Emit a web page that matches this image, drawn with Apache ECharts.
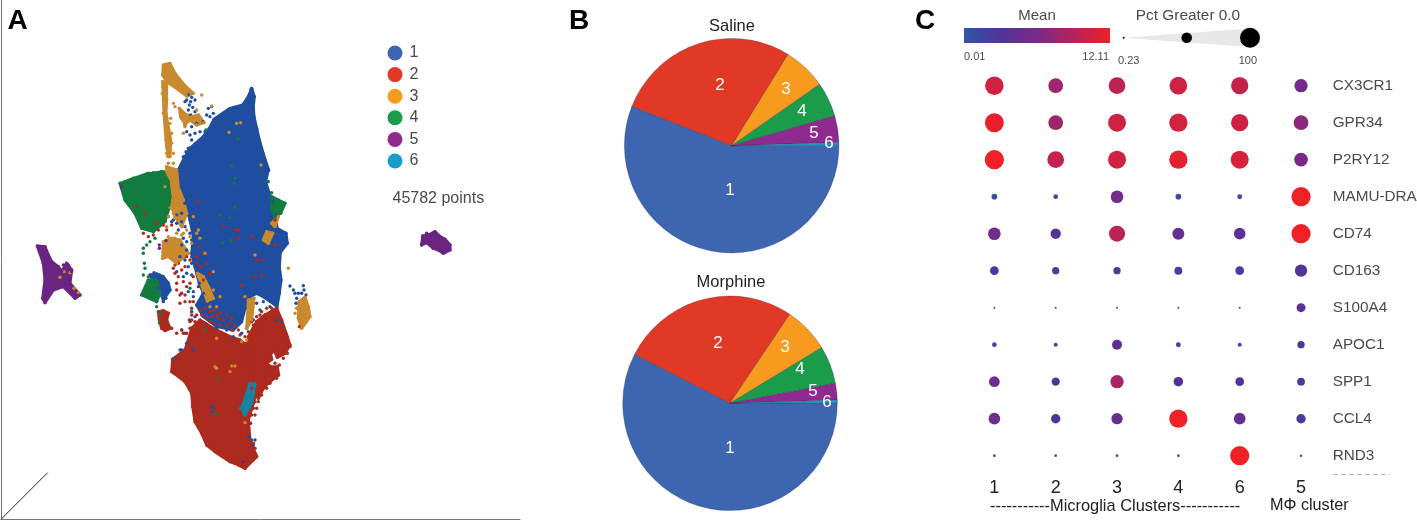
<!DOCTYPE html>
<html>
<head>
<meta charset="utf-8">
<title>Clusters</title>
<style>
    html, body { margin: 0; padding: 0; background: #fff; }
    #main { width: 1417px; height: 521px; }
</style>
</head>
<body>
<div id="main"></div>
<script src="https://cdn.jsdelivr.net/npm/echarts@6/dist/echarts.min.js"></script>
<script>
    // A: cell map, dense areas as outlines, loose cells as points
    var clusterNames = ['1', '2', '3', '4', '5', '6'];

    var blueAreas = [
        [[755,265],[763,290],[760,320],[762,350],[770,385],[778,420],[790,462],[805,508],[797,545],[806,575],[818,605],[826,645],[831,685],[858,700],[862,730],[841,757],[838,800],[843,840],[838,880],[831,920],[812,905],[790,890],[770,880],[750,890],[735,925],[725,965],[700,990],[650,980],[610,950],[590,915],[610,880],[598,850],[585,800],[575,760],[580,710],[570,660],[555,610],[540,560],[535,510],[555,470],[570,445],[585,432],[610,410],[628,385],[642,358],[690,325],[728,315],[745,290]],
        [[450,825],[470,822],[490,830],[505,850],[510,870],[490,900],[475,865]]
    ];
    var redAreas = [
        [[575,985],[600,960],[640,985],[690,1010],[720,1020],[745,1040],[748,1100],[750,1150],[770,1170],[760,1210],[745,1260],[750,1320],[770,1370],[760,1380],[735,1405],[715,1395],[690,1385],[645,1355],[620,1335],[605,1300],[585,1265],[578,1220],[575,1180],[555,1145],[515,1115],[518,1078],[555,1050],[565,1020]],
        [[745,1010],[770,965],[795,945],[830,925],[845,960],[858,1000],[870,1035],[855,1060],[832,1072],[822,1050],[812,1062],[815,1078],[800,1090],[812,1100],[832,1100],[836,1125],[810,1145],[790,1165],[775,1195],[755,1165],[748,1100]],
        [[475,935],[490,932],[505,940],[500,960],[510,985],[495,992],[485,985],[478,960]]
    ];
    var orangeAreas = [
        [[490,195],[510,190],[525,220],[540,240],[560,262],[580,280],[560,288],[525,262],[500,245],[488,225]],
        [[488,245],[500,250],[500,300],[498,340],[512,420],[510,470],[504,470],[498,420],[492,340]],
        [[538,325],[555,342],[575,350],[595,345],[612,368],[590,375],[570,360],[555,372],[542,350]],
        [[500,500],[530,510],[535,560],[550,600],[560,640],[545,680],[525,650],[515,620],[495,560]],
        [[490,725],[515,715],[540,720],[565,760],[530,790],[505,770],[488,775]],
        [[592,820],[610,830],[625,860],[640,895],[622,903],[610,870]],
        [[745,900],[762,895],[755,960],[740,985]],
        [[897,905],[915,892],[925,920],[930,950],[905,985],[895,955]],
        [[800,695],[818,700],[805,730],[790,720]],
        [[815,670],[835,650],[825,680]]
    ];
    var greenAreas = [
        [[360,550],[400,535],[440,522],[490,515],[505,545],[510,590],[505,630],[495,665],[460,695],[425,685],[405,640],[375,600]],
        [[815,590],[835,600],[855,610],[842,640],[825,650],[815,630]],
        [[445,840],[470,840],[480,880],[470,905],[425,885]]
    ];
    var purpleAreas = [
        [[112,738],[135,740],[145,765],[155,785],[175,800],[185,815],[200,790],[215,810],[210,850],[240,885],[225,895],[190,860],[160,870],[135,908],[128,895],[135,840],[130,790]],
        [[1268,708],[1285,705],[1305,695],[1318,708],[1335,718],[1350,735],[1350,750],[1330,760],[1315,750],[1300,745],[1280,728],[1265,735]]
    ];
    var tealAreas = [
        [[750,1150],[765,1152],[755,1210],[735,1245],[725,1225],[740,1180]]
    ];

    var bluePoints = [[753,270],[757,285],[748,300],[743,310],[565,285],[575,292],[560,300],[572,305],[585,300],[568,315],[578,322],[585,335],[565,330],[572,345],[555,305],[625,325],[635,320],[640,340],[620,345],[610,365],[630,350],[590,370],[575,380],[560,395],[570,405],[585,400],[600,395],[615,395],[555,375],[600,420],[575,420],[590,440],[565,445],[550,470],[558,455],[785,465],[797,500],[806,512],[792,480],[805,545],[462,818],[478,825],[490,835],[505,855],[497,875],[498,895],[490,905],[600,700],[590,745],[575,770],[555,780],[540,770],[560,750],[545,735],[535,690],[520,660],[530,645],[545,640],[505,650],[515,665],[530,670],[545,665],[555,680],[570,700],[575,720],[560,725],[550,715],[585,760],[575,790],[565,800],[590,820],[575,825],[595,860],[580,875],[565,875],[580,890],[560,820],[550,830],[530,815],[575,935],[585,950],[568,960],[555,1000],[545,990],[560,1030],[545,1050],[580,1050],[540,1050],[525,1075],[720,970],[760,960],[780,930],[800,890],[790,905],[770,910],[845,965],[850,985],[830,960],[810,920],[700,1010],[680,990],[650,985],[725,1000],[740,985],[635,1220],[635,1235],[640,1222],[745,1310],[755,1320],[765,1320],[760,1335],[752,1270],[870,858],[880,870],[885,880],[895,880],[910,857],[912,870],[905,880],[918,885],[890,895],[888,910]];
    var redPoints = [[830,925],[815,925],[800,925],[785,935],[835,945],[795,945],[780,945],[770,950],[770,965],[755,965],[760,975],[778,975],[850,985],[838,985],[785,985],[760,985],[745,995],[862,1010],[865,1025],[870,1040],[860,1045],[862,1060],[850,1075],[838,1095],[825,1090],[830,1135],[810,1150],[800,1165],[785,1185],[775,1205],[765,1205],[770,1225],[760,1225],[765,1245],[755,1245],[750,1270],[745,1290],[760,1330],[765,1345],[768,1365],[525,820],[535,830],[550,845],[530,850],[545,880],[540,885],[560,860],[570,850],[580,830],[555,800],[535,790],[525,795],[570,780],[590,790],[610,760],[620,790],[630,820],[610,840],[600,800],[590,770],[595,740],[560,770],[545,810],[520,805],[530,870],[555,885],[570,905],[540,910],[555,905],[575,925],[580,905],[530,1000],[545,990],[515,985],[550,1000],[430,700],[445,710],[460,705],[475,690],[490,675],[470,670],[500,690],[515,675],[410,620],[435,640],[705,690],[715,690],[695,720],[715,715],[670,680],[755,710],[770,780],[785,780],[765,830],[725,855],[785,825],[595,605],[825,660],[830,650],[825,735],[898,980],[600,930],[615,925],[630,935],[645,930],[660,940],[680,945],[695,955],[590,945],[605,945],[620,950],[635,950],[655,955],[670,960],[690,970],[705,975],[585,965],[600,970],[615,970],[630,965],[645,970],[660,975],[680,980],[695,990],[715,990],[720,1005],[735,1010],[575,945],[570,965],[740,1030],[640,930],[650,945],[575,960],[570,985],[560,1000]];
    var orangePoints = [[488,260],[487,280],[490,300],[495,325],[490,340],[500,355],[512,355],[510,370],[505,385],[498,390],[515,400],[515,430],[500,440],[505,430],[512,450],[500,460],[520,460],[505,490],[520,490],[520,310],[525,320],[550,340],[545,355],[565,355],[555,380],[550,400],[590,330],[605,285],[635,318],[710,370],[722,368],[687,397],[783,495],[865,805],[765,765],[595,690],[590,700],[615,760],[640,815],[640,870],[650,920],[630,920],[660,890],[735,890],[650,1015],[740,1020],[725,1025],[645,1100],[650,1105],[690,1115],[705,1098],[695,1098],[890,925],[885,940],[735,1268],[180,832],[192,815],[210,818],[222,865],[235,878],[510,625],[520,640],[560,640],[580,650],[560,690],[550,700],[505,710],[530,700],[575,730],[505,650],[500,680],[525,715],[545,705],[570,710],[600,715]];
    var greenPoints = [[445,520],[483,515],[460,518],[430,745],[440,735],[450,725],[465,715],[430,760],[433,790],[435,805],[430,825],[445,830],[470,920],[480,940],[478,968],[705,535],[703,550],[695,497],[714,416],[660,645],[690,653],[704,622],[668,728],[692,722],[618,390],[800,545],[815,578],[655,1137],[648,1243],[615,990],[570,865],[575,935]];
    var purplePoints = [[365,562],[478,735],[498,722],[478,745],[730,1385],[190,795],[205,795],[215,815],[205,835],[1265,732],[1328,755],[1280,700],[1305,697]];
    var tealPoints = [[722,1225],[735,1245],[745,1190]];
    var axisHint = [[3,1558],[143,1418]];

    // B: share of each cluster in percent
    var salineShare = [56.0, 27.8, 6.5, 5.2, 4.0, 0.4];
    var morphineShare = [57.6, 26.8, 6.9, 5.7, 2.5, 0.4];

    // C: percent expressing and mean per gene, columns follow clusterOrder
    var clusterOrder = ['1', '2', '3', '4', '6', '5'];
    var genes = ['CX3CR1', 'GPR34', 'P2RY12', 'MAMU-DRA', 'CD74', 'CD163', 'S100A4', 'APOC1', 'SPP1', 'CCL4', 'RND3'];
    var pctRows = [
        [86, 54, 70, 78, 75, 44],
        [90, 54, 81, 84, 75, 54],
        [93, 70, 81, 84, 81, 47],
        [8, 5.5, 40, 8, 6, 93],
        [40, 27, 64, 36, 34, 93],
        [19, 13, 13, 16, 19, 38],
        [1, 1, 1, 1, 1, 20],
        [5.5, 4, 25, 6, 4, 13],
        [29, 17, 44, 23, 19, 15],
        [34, 22, 32, 84, 34, 22],
        [1.8, 1.8, 1.8, 1.8, 93, 1.5]
    ];
    var meanRows = [
        [10.5, 8, 9.5, 10.5, 10, 5.5],
        [11.8, 8, 10.5, 10.7, 10.5, 7],
        [12.1, 9.8, 10.5, 11.5, 11, 6],
        [1, 1, 5.5, 1, 1, 12.1],
        [5.5, 3.5, 9.5, 4.5, 4, 12.1],
        [2.5, 2, 2, 2, 2, 3.5],
        [1.5, 1.5, 1.5, 1.5, 1.5, 4],
        [1.5, 1.5, 4, 1.5, 1.5, 2.5],
        [5, 2.5, 8.5, 3.5, 3, 2.5],
        [5, 3, 4.5, 12.1, 4.5, 2.5],
        [1, 1, 1, 1, 12.1, 1]
    ];

    var legendColors = ['#3e66b0', '#e23826', '#f89a1d', '#1a9c4b', '#8f2a90', '#1b9dcb'];
    var mapColors = ['#1f4ea0', '#ad2a1e', '#c98a2f', '#127c3e', '#6a2481', '#1784a5'];
    var meanColors = ['#2f55a7', '#503399', '#7a2a88', '#b3235a', '#ef2026'];
    var textGray = '#4a4a4a';
    var fontName = '"Liberation Sans", Arial, sans-serif';

    // label centres on the page, same order as clusterNames
    var salineLabels = [[730,190],[720,85],[786,89],[802,111],[814,133],[829,143]];
    var morphineLabels = [[730,448],[718,343],[785,347],[800,369],[813,391],[827,402]];

    var series = [];

    function addAreas(name, color, areas) {
        series.push({
            name: name,
            type: 'custom',
            coordinateSystem: 'cartesian2d',
            xAxisIndex: 0,
            yAxisIndex: 0,
            z: 2,
            silent: true,
            data: areas.map(function (a, i) { return [a[0][0], a[0][1], i]; }),
            renderItem: function (params, api) {
                var pts = areas[params.dataIndex].map(function (p) { return api.coord(p); });
                return {
                    type: 'polygon',
                    shape: { points: pts },
                    style: { fill: color, stroke: color, lineWidth: 3, lineJoin: 'round' }
                };
            }
        });
    }

    function addPoints(name, color, points) {
        series.push({
            name: name,
            type: 'scatter',
            xAxisIndex: 0,
            yAxisIndex: 0,
            z: 3,
            symbolSize: 3.4,
            silent: true,
            itemStyle: { color: color, opacity: 1 },
            data: points
        });
    }

    var allAreas = [blueAreas, redAreas, orangeAreas, greenAreas, purpleAreas, tealAreas];
    var allPoints = [bluePoints, redPoints, orangePoints, greenPoints, purplePoints, tealPoints];
    clusterNames.forEach(function (name, i) {
        addAreas(name, mapColors[i], allAreas[i]);
    });
    // outline corners show as cells too, this gives the rough edge
    clusterNames.forEach(function (name, i) {
        var corners = [];
        allAreas[i].forEach(function (a) { corners = corners.concat(a); });
        addPoints(name, mapColors[i], corners.concat(allPoints[i]));
    });

    series.push({
        type: 'line',
        xAxisIndex: 0,
        yAxisIndex: 0,
        symbol: 'none',
        silent: true,
        lineStyle: { color: '#222', width: 1 },
        data: axisHint
    });

    function addPie(share, center, labels) {
        series.push({
            type: 'pie',
            center: center,
            radius: [0, 107.3],
            startAngle: 0.3,
            silent: true,
            itemStyle: { borderColor: 'rgba(30,30,70,0.45)', borderWidth: 0.6 },
            label: {
                position: 'inside',
                formatter: '{b}',
                color: '#fff',
                fontSize: 17,
                fontFamily: fontName
            },
            labelLine: { show: false },
            labelLayout: function (params) {
                var c = labels[params.dataIndex];
                return { x: c[0], y: c[1], align: 'center', verticalAlign: 'middle' };
            },
            data: share.map(function (v, i) {
                return { name: clusterNames[i], value: v, itemStyle: { color: legendColors[i] } };
            })
        });
    }
    addPie(salineShare, [731.7, 145.7], salineLabels);
    addPie(morphineShare, [730, 403.3], morphineLabels);

    var dotData = [];
    genes.forEach(function (g, r) {
        clusterOrder.forEach(function (c, k) {
            dotData.push([k, r, pctRows[r][k], meanRows[r][k]]);
        });
    });
    var dotSeriesIndex = series.length;
    series.push({
        name: 'Mean',
        type: 'scatter',
        xAxisIndex: 1,
        yAxisIndex: 1,
        silent: true,
        itemStyle: { opacity: 1 },
        symbolSize: function (v) { return 20 * Math.sqrt(v[2] / 100); },
        data: dotData
    });

    function text(str, x, y, size, color, align, weight) {
        return {
            type: 'text',
            x: x,
            y: y,
            silent: true,
            style: {
                text: str,
                fill: color,
                font: (weight || 'normal') + ' ' + size + 'px ' + fontName,
                align: align || 'center',
                verticalAlign: 'middle'
            }
        };
    }

    var option = {
        animation: false,
        backgroundColor: '#fff',
        textStyle: { fontFamily: fontName },
        grid: [
            { left: 1, top: 0, width: 519, height: 519.3, containLabel: false, outerBoundsMode: 'none' },
            { left: 963.7, top: 67.2, width: 368, height: 407, containLabel: false, outerBoundsMode: 'none' }
        ],
        xAxis: [
            {
                type: 'value', gridIndex: 0, min: 3, max: 1560, position: 'bottom',
                axisLine: { show: true, onZero: false, lineStyle: { color: '#777', width: 1 } },
                axisTick: { show: false }, axisLabel: { show: false }, splitLine: { show: false }
            },
            {
                type: 'category', gridIndex: 1, data: clusterOrder, position: 'bottom',
                axisLine: { show: false }, axisTick: { show: false }, splitLine: { show: false },
                axisLabel: { color: '#222', fontSize: 18, margin: 5, fontFamily: fontName }
            }
        ],
        yAxis: [
            {
                type: 'value', gridIndex: 0, min: 0, max: 1558, inverse: true, position: 'left',
                axisLine: { show: true, onZero: false, lineStyle: { color: '#777', width: 1 } },
                axisTick: { show: false }, axisLabel: { show: false }, splitLine: { show: false }
            },
            {
                type: 'category', gridIndex: 1, data: genes, inverse: true, position: 'right',
                axisLine: { show: false }, axisTick: { show: false }, splitLine: { show: false },
                axisLabel: { color: textGray, fontSize: 15.3, margin: 1, fontFamily: fontName }
            }
        ],
        legend: {
            orient: 'vertical',
            left: 387.5,
            top: 45,
            padding: 0,
            icon: 'circle',
            itemWidth: 15,
            itemHeight: 15,
            itemGap: 5.6,
            selectedMode: false,
            textStyle: { color: textGray, fontSize: 16, padding: [0, 0, 0, 2] },
            data: clusterNames.map(function (n, i) {
                return { name: n, itemStyle: { color: legendColors[i] } };
            })
        },
        visualMap: {
            show: false,
            type: 'continuous',
            seriesIndex: dotSeriesIndex,
            dimension: 3,
            min: 0.01,
            max: 12.11,
            inRange: { color: meanColors }
        },
        graphic: [
            text('A', 7.5, 21.5, 28, '#000', 'left', 'bold'),
            text('B', 569, 21.5, 28, '#000', 'left', 'bold'),
            text('C', 915, 21.5, 28, '#000', 'left', 'bold'),
            text('45782 points', 392.5, 199, 16, textGray, 'left'),
            text('Saline', 732, 26, 16.5, '#222'),
            text('Morphine', 731, 282, 16.5, '#222'),
            text('Mean', 1037, 16, 15, textGray),
            text('Pct Greater 0.0', 1188, 16, 15.4, textGray),
            {
                type: 'rect',
                silent: true,
                shape: { x: 964, y: 28, width: 146, height: 15 },
                style: {
                    fill: {
                        type: 'linear', x: 0, y: 0, x2: 1, y2: 0,
                        colorStops: meanColors.map(function (c, i) {
                            return { offset: i / (meanColors.length - 1), color: c };
                        })
                    }
                }
            },
            text('0.01', 964, 57, 11, textGray, 'left'),
            text('12.11', 1109, 57, 11, textGray, 'right'),
            {
                type: 'polygon',
                silent: true,
                shape: { points: [[1123, 37.7], [1250, 28.5], [1250, 47]] },
                style: { fill: '#e6e7e8' }
            },
            { type: 'circle', silent: true, shape: { cx: 1123.7, cy: 37.7, r: 1 }, style: { fill: '#000' } },
            { type: 'circle', silent: true, shape: { cx: 1186.7, cy: 37.7, r: 5.3 }, style: { fill: '#000' } },
            { type: 'circle', silent: true, shape: { cx: 1250, cy: 37.7, r: 10 }, style: { fill: '#000' } },
            text('0.23', 1118, 61, 11, textGray, 'left'),
            text('100', 1257, 61, 11, textGray, 'right'),
            {
                type: 'line',
                silent: true,
                shape: { x1: 1333, y1: 474.5, x2: 1390, y2: 474.5 },
                style: { stroke: '#bbb', lineWidth: 1, lineDash: [5, 3] }
            },
            text('-----------Microglia Clusters-----------', 990, 506, 16.4, '#222', 'left'),
            text('M\u03A6 cluster', 1270, 506, 16.2, '#222', 'left')
        ],
        series: series
    };

    var chart = echarts.init(document.getElementById('main'));
    chart.setOption(option);
</script>
</body>
</html>
